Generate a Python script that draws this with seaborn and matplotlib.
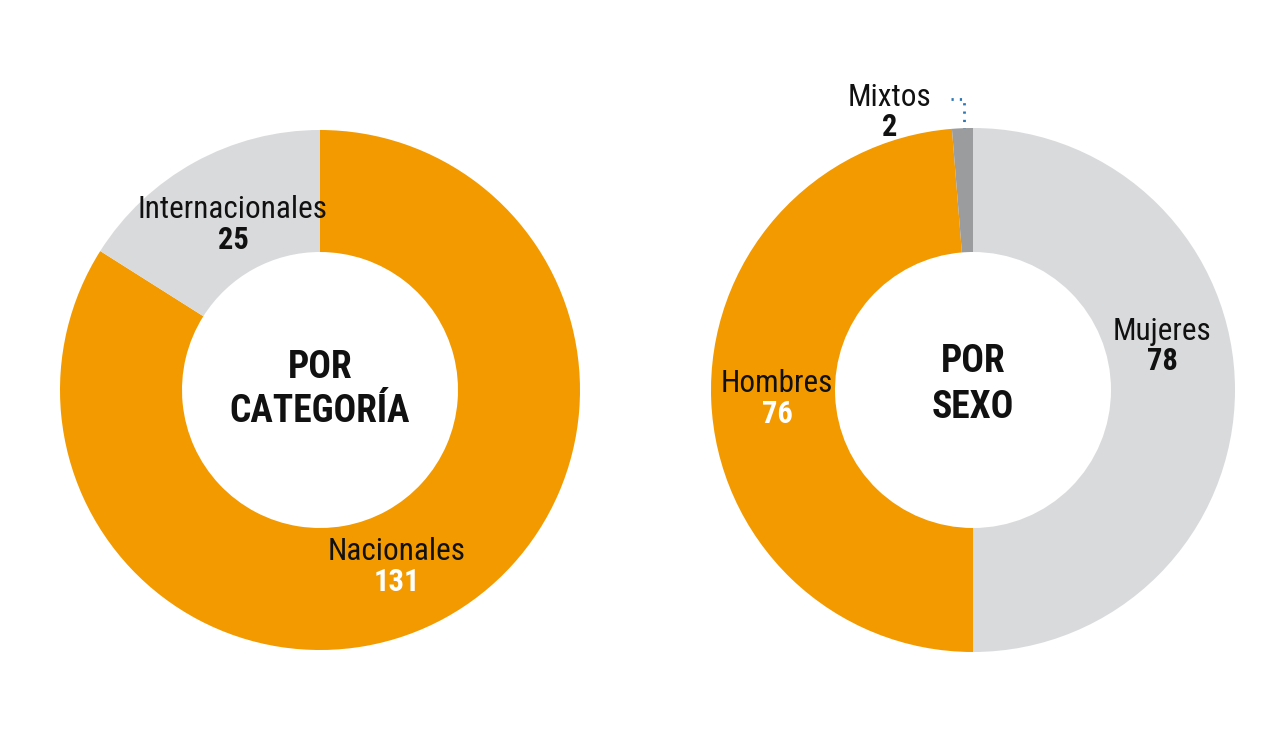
import matplotlib
matplotlib.use("Agg")
import matplotlib.pyplot as plt
from matplotlib import font_manager
import seaborn as sns

# ---- data ----
cat_labels = ["Nacionales", "Internacionales"]
cat_values = [131, 25]
sex_labels = ["Mujeres", "Hombres", "Mixtos"]
sex_values = [78, 76, 2]

ORANGE = "#F39A00"
LIGHT = "#D9DADC"
DARK = "#9B9C9E"

sns.set_theme(style="white")
names = {f.name for f in font_manager.fontManager.ttflist}
fam = next((f for f in ["Roboto Condensed", "Liberation Sans Narrow", "Roboto", "DejaVu Sans"] if f in names), "DejaVu Sans")
plt.rcParams["font.family"] = [fam, "DejaVu Sans"]

H = 732
fig = plt.figure(figsize=(12.8, 7.32), dpi=100)
ax = fig.add_axes([0, 0, 1, 1])

ax.pie(cat_values, colors=[ORANGE, LIGHT], startangle=90, counterclock=False,
       center=(320, H - 390), radius=260, wedgeprops=dict(width=122, linewidth=0),
       frame=True)
ax.pie(sex_values, colors=[LIGHT, ORANGE, DARK], startangle=90, counterclock=False,
       center=(973, H - 390), radius=262, wedgeprops=dict(width=124, linewidth=0),
       frame=True)
ax.set_xlim(0, 1280)
ax.set_ylim(0, H)
ax.set_aspect("equal")
ax.axis("off")

lab = 22.5
num = 22
ctr = 27

def label(x, y, name, val, numcolor="#111111"):
    ax.text(x, H - y, name, fontsize=lab, ha="center", va="center", color="#111111")
    ax.text(x, H - (y + 30), str(val), fontsize=num, ha="center", va="center",
            color=numcolor, fontweight="bold")

label(233, 210, cat_labels[1], cat_values[1])
label(397, 552, cat_labels[0], cat_values[0], numcolor="white")
label(1162, 331, sex_labels[0], sex_values[0])
label(777, 384, sex_labels[1], sex_values[1], numcolor="white")
label(890, 97, sex_labels[2], sex_values[2])

def center(x, y, s):
    ax.text(x, H - y, s, fontsize=ctr, ha="center", va="center",
            fontweight="bold", color="#111111")

center(320, 368, "POR")
center(320, 412, "CATEGORÍA")
center(973, 362, "POR")
center(973, 408, "SEXO")

ax.plot([951, 964, 964], [H - 99, H - 99, H - 128], linestyle=(0, (0.8, 2.2)),
        color="#2E75B6", linewidth=2)

fig.savefig("out.png", dpi=100, facecolor="white")
